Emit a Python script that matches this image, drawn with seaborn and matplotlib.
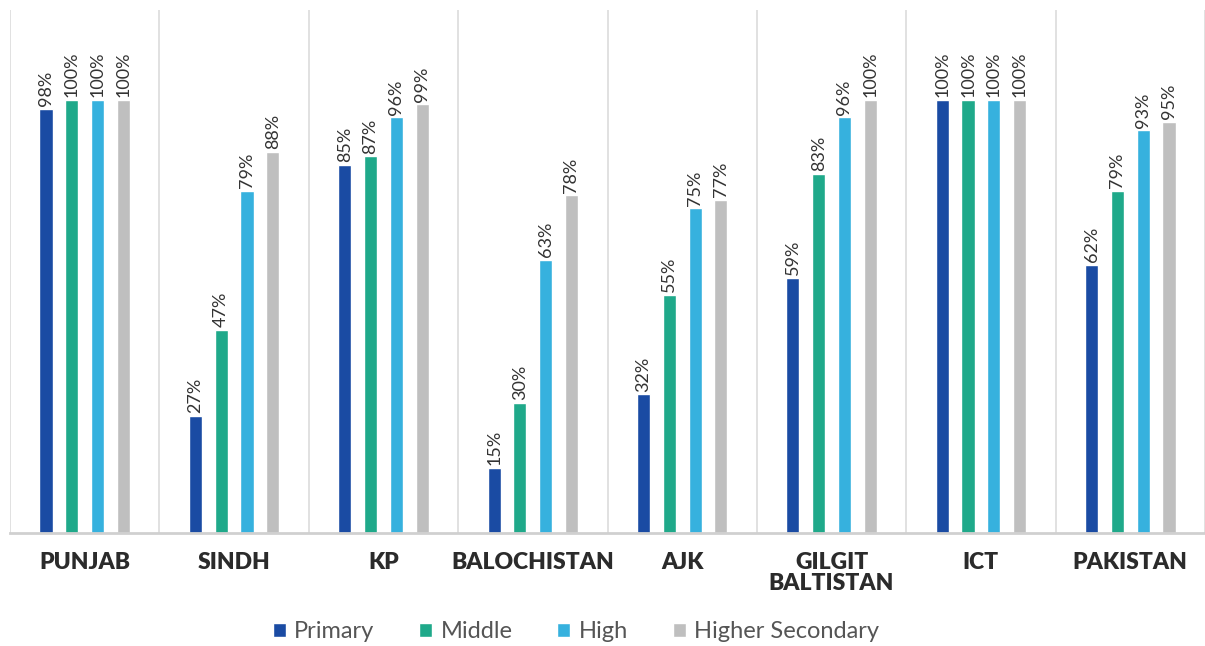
import numpy as np
import pandas as pd
import seaborn as sns
import matplotlib.pyplot as plt

sns.set_style("white")
plt.rcParams['font.family'] = ['Lato', 'DejaVu Sans']

regions = ["PUNJAB", "SINDH", "KP", "BALOCHISTAN", "AJK", "GILGIT\nBALTISTAN", "ICT", "PAKISTAN"]
levels = ["Primary", "Middle", "High", "Higher Secondary"]
primary = [98, 27, 85, 15, 32, 59, 100, 62]
middle = [100, 47, 87, 30, 55, 83, 100, 79]
high = [100, 79, 96, 63, 75, 96, 100, 93]
higher_sec = [100, 88, 99, 78, 77, 100, 100, 95]
colors = ["#1A4BA3", "#1FA98A", "#36B1DE", "#BFBFBF"]

series = [primary, middle, high, higher_sec]
rows = []
for lev, vals in zip(levels, series):
    for reg, v in zip(regions, vals):
        rows.append({"region": reg, "level": lev, "value": v})
df = pd.DataFrame(rows)

fig = plt.figure(figsize=(12.05, 6.46), dpi=100)
ax = fig.add_axes([10 / 1205, 113 / 646, 1195 / 1205, 523 / 646])

sns.barplot(data=df, x="region", y="value", hue="level", order=regions,
            hue_order=levels, palette=colors, width=0.69, gap=0.49,
            saturation=1, errorbar=None, ax=ax)

for cont, vals in zip(ax.containers, series):
    ax.bar_label(cont, labels=[f"{v}%" for v in vals], rotation=90,
                 padding=2, fontsize=13, color="#333333")

for x in np.arange(-0.5, 8, 1):
    ax.axvline(x, color="#DCDCDC", lw=1.2, zorder=0)

ax.set_xlim(-0.5, 7.5)
ax.set_ylim(0, 120.8)
ax.set_yticks([])
ax.set_xlabel("")
ax.set_ylabel("")
for s in ["top", "right", "left"]:
    ax.spines[s].set_visible(False)
ax.spines["bottom"].set_color("#D0D0D0")
ax.spines["bottom"].set_linewidth(2)
ax.tick_params(axis="x", length=0, pad=14)
for t in ax.get_xticklabels():
    t.set_fontweight("heavy")
    t.set_fontsize(16.5)
    t.set_color("#2B2B2B")
    t.set_verticalalignment("top")
    t.set_linespacing(1.0)

handles, labels = ax.get_legend_handles_labels()
ax.get_legend().remove()
fig.legend(handles, labels, loc="center", bbox_to_anchor=(576 / 1205, 14 / 646),
           ncol=4, frameon=False, fontsize=17, handlelength=0.55, handleheight=0.55,
           handletextpad=0.35, columnspacing=1.9, labelcolor="#555555")

fig.savefig("out.png", dpi=100)
